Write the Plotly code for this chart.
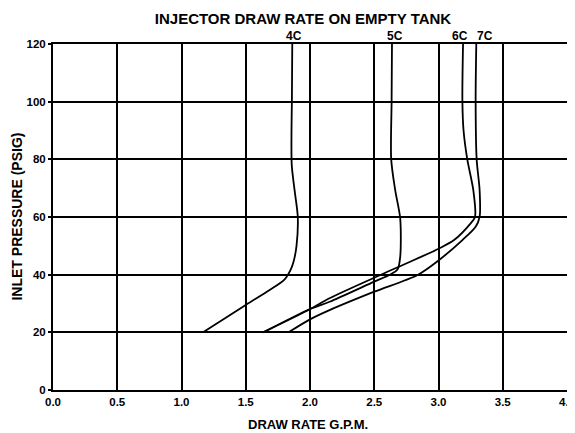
import plotly.graph_objects as go

# Pressure (psig) vs draw rate (gpm) per injector size
y_4c = [20, 29.5, 34.7, 38.1, 41.6, 44.5, 50, 60, 69.3, 78, 90, 100, 120]
x_4c = [1.168, 1.5, 1.686, 1.797, 1.848, 1.872, 1.895, 1.905, 1.88, 1.858, 1.856, 1.859, 1.862]

y_5c = [20, 28.1, 30.6, 37.6, 39.9, 41.8, 46.2, 59.5, 69.3, 80, 100, 120]
x_5c = [1.638, 2.0, 2.152, 2.5, 2.617, 2.681, 2.702, 2.702, 2.663, 2.632, 2.635, 2.638]

y_6c = [20, 28.0, 31.8, 42.3, 49.1, 52.0, 57.8, 60, 69.3, 80, 90, 100, 120]
x_6c = [1.634, 2.0, 2.152, 2.669, 3.005, 3.121, 3.25, 3.284, 3.271, 3.224, 3.195, 3.186, 3.191]

y_7c = [20, 24.5, 27.7, 34.1, 39.9, 45.1, 52.0, 56.6, 60.1, 69.3, 80, 100, 120]
x_7c = [1.833, 2.0, 2.152, 2.5, 2.837, 3.005, 3.186, 3.289, 3.32, 3.32, 3.297, 3.289, 3.294]

series_names = ["4C", "5C", "6C", "7C"]
label_x = [1.876, 2.663, 3.164, 3.362]

x_ticks = [0.0, 0.5, 1.0, 1.5, 2.0, 2.5, 3.0, 3.5, 4.0]
x_tick_text = ["0.0", "0.5", "1.0", "1.5", "2.0", "2.5", "3.0", "3.5", "4.0"]
y_ticks = [0, 20, 40, 60, 80, 100, 120]

FONT = "Liberation Sans, Arial, Helvetica, sans-serif"
OFF = 8  # page body margin in the browser
W, H = 575 - OFF, 433 - OFF
L, T = 53 - OFF, 44 - OFF
R = W - (567.5 - OFF)
B = H - (390 - OFF)
PW, PH = W - L - R, H - T - B

fig = go.Figure()
for xs, ys, nm in zip([x_4c, x_5c, x_6c, x_7c], [y_4c, y_5c, y_6c, y_7c], series_names):
    fig.add_trace(go.Scatter(
        x=xs, y=ys, mode="lines", name=nm,
        line=dict(color="black", width=1.8, shape="spline", smoothing=0.8),
        showlegend=False, hoverinfo="skip"))

for nm, lx in zip(series_names, label_x):
    fig.add_annotation(x=lx, xref="x", y=1, yref="paper", yanchor="bottom",
                       text="<b>%s</b>" % nm, showarrow=False, yshift=-1,
                       font=dict(family=FONT, size=12, color="black"))

# axis titles as annotations (fixed positions)
fig.add_annotation(x=(308 - 53) / PW, xref="paper", y=(390 - 424) / PH, yref="paper",
                   xanchor="center", yanchor="middle", showarrow=False,
                   text="<b>DRAW RATE G.P.M.</b>",
                   font=dict(family=FONT, size=13, color="black"))
fig.add_annotation(x=(16.5 - 53) / PW, xref="paper", y=0.5, yref="paper",
                   xanchor="center", yanchor="middle", showarrow=False,
                   textangle=-90, text="<b>INLET PRESSURE (PSIG)</b>",
                   font=dict(family=FONT, size=14, color="black"))

fig.update_layout(
    width=W, height=H,
    margin=dict(l=L, r=R, t=T, b=B, autoexpand=False),
    paper_bgcolor="white", plot_bgcolor="white",
    title=dict(text="<b>INJECTOR DRAW RATE ON EMPTY TANK</b>",
               x=(303 - OFF) / W, xref="container", xanchor="center",
               y=1 - (18.5 - OFF) / H, yref="container", yanchor="middle",
               font=dict(family=FONT, size=15, color="black")),
    font=dict(family=FONT, color="black"),
)

fig.update_xaxes(
    range=[0, 4.0], tickvals=x_ticks, ticktext=["<b>%s</b>" % t for t in x_tick_text],
    showgrid=True, gridcolor="black", gridwidth=2,
    showline=True, linecolor="black", linewidth=2, mirror=True,
    ticks="", zeroline=False, automargin=False,
    tickfont=dict(family=FONT, size=11.5, color="black"),
)
fig.update_yaxes(
    range=[0, 120], tickvals=y_ticks, ticktext=["<b>%d</b>" % t for t in y_ticks],
    showgrid=True, gridcolor="black", gridwidth=2,
    showline=True, linecolor="black", linewidth=2, mirror=True,
    ticks="outside", ticklen=3, tickwidth=2, tickcolor="black", zeroline=False,
    automargin=False,
    tickfont=dict(family=FONT, size=11.5, color="black"),
)

fig.write_html("out.html")
